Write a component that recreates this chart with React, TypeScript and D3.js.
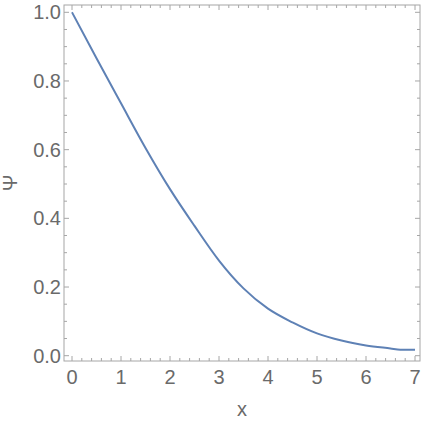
import React from "react";
import * as d3 from "d3";

const xs = [0, 0.5, 1.0, 1.5, 2.0, 2.5, 3.0, 3.5, 4.0, 4.5, 5.0, 5.5, 6.0, 6.5, 6.7, 7.0];
const psi = [1.0, 0.866, 0.735, 0.605, 0.485, 0.378, 0.277, 0.196, 0.137, 0.097, 0.065, 0.044, 0.030, 0.021, 0.0175, 0.0175];
const xTicks = [0, 1, 2, 3, 4, 5, 6, 7];
const yTicks = [0.0, 0.2, 0.4, 0.6, 0.8, 1.0];
const xLabel = "x";
const yLabel = "Ψ";

const W = 424, H = 424;
const frame = { left: 64, right: 420, top: 5, bottom: 361 };

export default function App() {
  const x = d3.scaleLinear().domain([0, 7]).range([72, 415]);
  const y = d3.scaleLinear().domain([0, 1]).range([355.7, 12.3]);
  const pts = xs.map((v, i) => [v, psi[i]] as [number, number]);
  const line = d3.line<[number, number]>().x(d => x(d[0])).y(d => y(d[1])).curve(d3.curveMonotoneX);

  const xMinor = d3.range(0, 7.0001, 0.2).filter(v => Math.abs(v - Math.round(v)) > 1e-6);
  const yMinor = d3.range(0, 1.0001, 0.05).filter(v => Math.abs(v * 5 - Math.round(v * 5)) > 1e-6);
  const tc = "#a6a6a6";
  const lc = "#6a6a6a";
  const font = "'Liberation Sans', Arial, sans-serif";
  const fs = 20;
  const maj = 5, min = 3;

  return (
    <svg width={W} height={H} style={{ position: "fixed", left: 0, top: 0, background: "#fff" }}>
      <rect x={frame.left} y={frame.top} width={frame.right - frame.left} height={frame.bottom - frame.top} fill="none" stroke={tc} strokeWidth={1} />
      {xTicks.map(t => (
        <g key={"xt" + t}>
          <line x1={x(t)} x2={x(t)} y1={frame.bottom} y2={frame.bottom - maj} stroke={tc} />
          <line x1={x(t)} x2={x(t)} y1={frame.top} y2={frame.top + maj} stroke={tc} />
          <text x={x(t)} y={384} textAnchor="middle" fontSize={fs} fill={lc} fontFamily={font}>{t}</text>
        </g>
      ))}
      {xMinor.map((t, i) => (
        <g key={"xm" + i}>
          <line x1={x(t)} x2={x(t)} y1={frame.bottom} y2={frame.bottom - min} stroke={tc} />
          <line x1={x(t)} x2={x(t)} y1={frame.top} y2={frame.top + min} stroke={tc} />
        </g>
      ))}
      {yTicks.map(t => (
        <g key={"yt" + t}>
          <line x1={frame.left} x2={frame.left + maj} y1={y(t)} y2={y(t)} stroke={tc} />
          <line x1={frame.right} x2={frame.right - maj} y1={y(t)} y2={y(t)} stroke={tc} />
          <text x={61} y={y(t)} dy="0.35em" textAnchor="end" fontSize={fs} fill={lc} fontFamily={font}>{t.toFixed(1)}</text>
        </g>
      ))}
      {yMinor.map((t, i) => (
        <g key={"ym" + i}>
          <line x1={frame.left} x2={frame.left + min} y1={y(t)} y2={y(t)} stroke={tc} />
          <line x1={frame.right} x2={frame.right - min} y1={y(t)} y2={y(t)} stroke={tc} />
        </g>
      ))}
      <path d={line(pts) || ""} fill="none" stroke="#5e81b5" strokeWidth={2} />
      <text x={(frame.left + frame.right) / 2} y={416} textAnchor="middle" fontSize={fs} fill={lc} fontFamily={font}>{xLabel}</text>
      <text transform={`translate(17, ${(frame.top + frame.bottom) / 2}) rotate(-90)`} textAnchor="middle" fontSize={fs} fill={lc} fontFamily={font}>{yLabel}</text>
    </svg>
  );
}
